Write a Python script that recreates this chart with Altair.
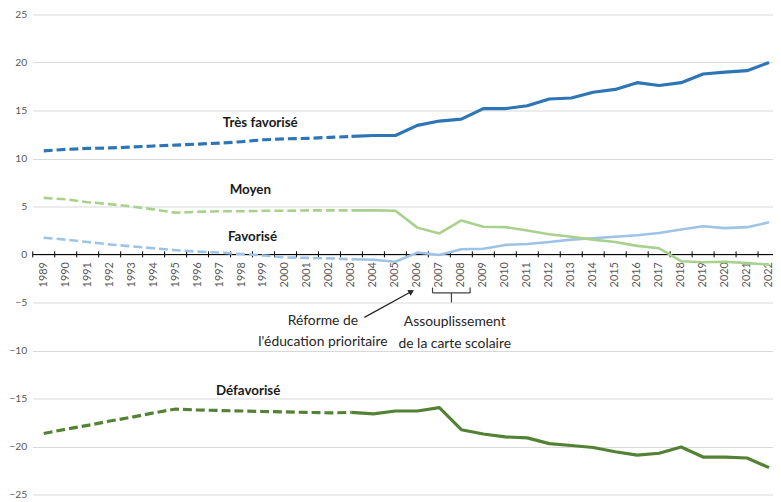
import altair as alt
import pandas as pd

# ---------------- data ----------------
years = list(range(1989, 2023))

tres_favorise = [10.8, 10.95, 11.05, 11.1, 11.2, 11.3, 11.4, 11.5, 11.6, 11.75, 11.95, 12.05,
                 12.1, 12.2, 12.3, 12.4, 12.4,
                 13.45, 13.9, 14.1, 15.2, 15.2, 15.5, 16.2, 16.3, 16.9, 17.2, 17.9, 17.6,
                 17.9, 18.8, 19.0, 19.15, 20.0]
favorise = [1.75, 1.55, 1.3, 1.05, 0.85, 0.65, 0.45, 0.3, 0.2, 0.05, -0.1, -0.3,
            -0.35, -0.4, -0.5, -0.55, -0.75,
            0.2, -0.05, 0.55, 0.6, 1.0, 1.1, 1.3, 1.55, 1.7, 1.85, 2.0, 2.25,
            2.6, 2.95, 2.75, 2.85, 3.35]
moyen = [5.9, 5.75, 5.45, 5.25, 5.0, 4.7, 4.35, 4.45, 4.5, 4.5, 4.55, 4.55,
         4.6, 4.6, 4.6, 4.6, 4.55,
         2.8, 2.2, 3.55, 2.9, 2.85, 2.5, 2.1, 1.85, 1.55, 1.3, 0.9, 0.65,
         -0.7, -0.8, -0.75, -0.9, -1.05]
defavorise = [-18.65, -18.2, -17.8, -17.35, -16.95, -16.5, -16.1, -16.2, -16.25, -16.3, -16.35, -16.4,
              -16.45, -16.5, -16.45, -16.6, -16.3,
              -16.3, -15.95, -18.25, -18.7, -19.0, -19.1, -19.7, -19.9, -20.1, -20.55, -20.9, -20.7,
              -20.05, -21.1, -21.1, -21.2, -22.2]

series_names = ["Très favorisé", "Favorisé", "Moyen", "Défavorisé"]
series_values = [tres_favorise, favorise, moyen, defavorise]
series_colors = ["#2E75B6", "#9DC3E6", "#A9D18E", "#548235"]
series_widths = [3.2, 2.6, 2.6, 3.2]
split_year = 2003  # dashed up to this year, solid after

label_x = [1998.85, 1998.5, 1998.4, 1998.3]
label_y = [13.7, 1.8, 6.75, -14.2]

y_ticks = [-25, -20, -15, -10, -5, 0, 5, 10, 15, 20, 25]

annot_text = ["Réforme de", "l'éducation prioritaire", "Assouplissement", "de la carte scolaire"]
annot_x = [2001.7, 2001.7, 2007.7, 2007.7]
annot_y = [-6.95, -9.15, -7.05, -9.3]

# ---------------- scales ----------------
FONT = "Lato"
xs = alt.Scale(domain=[1988.5, 2022.18], nice=False, zero=False)
ys = alt.Scale(domain=[-25, 25], nice=False, zero=False)
y_axis = alt.Axis(values=y_ticks, grid=True, gridColor="#D9D9D9", gridWidth=1,
                  domain=False, ticks=False, labelFont=FONT, labelFontSize=10.5,
                  labelColor="#595959", labelPadding=6, title=None)


def X(field):
    return alt.X(field, type="quantitative", scale=xs, axis=None)


def Y(field):
    return alt.Y(field, type="quantitative", scale=ys, axis=y_axis)


layers = []

# grid provider
base_df = pd.DataFrame({"x": [1988.5], "y": [0]})
layers.append(alt.Chart(base_df).mark_point(opacity=0).encode(x=X("x"), y=Y("y")))

# x axis line at 0
axis_df = pd.DataFrame({"x": [1988.5], "x2": [2022.18], "y": [0]})
layers.append(alt.Chart(axis_df).mark_rule(color="#000000", strokeWidth=1).encode(
    x=X("x"), x2="x2", y=Y("y")))

# tick marks between years
tick_df = pd.DataFrame({"t": [yr - 0.5 for yr in years], "a": 0.33, "b": -0.3})
layers.append(alt.Chart(tick_df).mark_rule(color="#000000", strokeWidth=1).encode(
    x=X("t"), y=Y("a"), y2="b"))

# year labels
ylab_df = pd.DataFrame({"year": years, "lab": [str(y) for y in years], "y": -0.8})
layers.append(alt.Chart(ylab_df).mark_text(
    angle=270, align="right", baseline="middle", font=FONT, fontSize=11,
    color="#595959").encode(x=X("year"), y=Y("y"), text="lab:N"))

# series lines
for name, vals, col, w in zip(series_names, series_values, series_colors, series_widths):
    dash_df = pd.DataFrame({"year": [y for y in years if y <= split_year],
                            "v": [v for y, v in zip(years, vals) if y <= split_year]})
    solid_df = pd.DataFrame({"year": [y for y in years if y >= split_year],
                             "v": [v for y, v in zip(years, vals) if y >= split_year]})
    layers.append(alt.Chart(dash_df).mark_line(color=col, strokeWidth=w, strokeDash=[9, 4]).encode(
        x=X("year"), y=Y("v")))
    layers.append(alt.Chart(solid_df).mark_line(color=col, strokeWidth=w, strokeJoin="round").encode(
        x=X("year"), y=Y("v")))

# series labels
lab_df = pd.DataFrame({"x": label_x, "y": label_y, "t": series_names})
layers.append(alt.Chart(lab_df).mark_text(
    font=FONT, fontSize=13.5, fontWeight="bold", color="#1a1a1a",
    align="center", baseline="middle").encode(x=X("x"), y=Y("y"), text="t:N"))

# annotation texts
ann_df = pd.DataFrame({"x": annot_x, "y": annot_y, "t": annot_text})
layers.append(alt.Chart(ann_df).mark_text(
    font=FONT, fontSize=14, color="#262626", align="center", baseline="middle").encode(
    x=X("x"), y=Y("y"), text="t:N"))

# arrow to 2006
arrow_df = pd.DataFrame({"x": [2003.59], "y": [-6.55], "x2": [2005.75], "y2": [-3.83]})
layers.append(alt.Chart(arrow_df).mark_rule(color="#262626", strokeWidth=1.3).encode(
    x=X("x"), y=Y("y"), x2="x2", y2="y2"))
head_df = pd.DataFrame({"x": [2005.73], "y": [-3.86]})
layers.append(alt.Chart(head_df).mark_point(
    shape="triangle-up", filled=True, size=45, angle=61, color="#262626", opacity=1).encode(
    x=X("x"), y=Y("y")))

# bracket under 2007-2008
br_df = pd.DataFrame({
    "x": [2006.69, 2006.69, 2008.40, 2007.55],
    "x2": [2008.40, 2006.69, 2008.40, 2007.55],
    "y": [-4.0, -3.45, -3.45, -4.0],
    "y2": [-4.0, -4.0, -4.0, -5.0],
})
layers.append(alt.Chart(br_df).mark_rule(color="#404040", strokeWidth=1.2).encode(
    x=X("x"), x2="x2", y=Y("y"), y2="y2"))

chart = alt.layer(*layers).properties(
    width=748, height=485,
    autosize=alt.AutoSizeParams(type="none"),
    padding={"left": 25, "top": 4, "right": 0, "bottom": 5},
    background="white",
).configure_view(stroke=None)

chart.save("out.html", embed_options={"renderer": "svg", "actions": False})
